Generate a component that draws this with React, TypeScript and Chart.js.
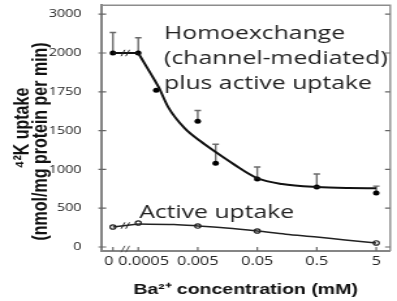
import React, { useEffect, useRef } from 'react';
import { Chart, LinearScale, registerables } from 'chart.js';

// ---------------- data ----------------
const X_TICKS = [0, 0.0005, 0.005, 0.05, 0.5, 5];
const X_TICK_LABELS = ['0\u2002', '\u2002\u20090.0005', '0.005', '0.05', '0.5', '5'];
const Y_TICKS = [0, 500, 1000, 1500, 1750, 2000, 3000];
const Y_TICK_LABELS = ['0', '500', '1000', '1500', '1750', '2000', '3000'];

// Homoexchange (channel-mediated) plus active uptake: measured points
const homoConc = [0, 0.0005, 0.001, 0.005, 0.01, 0.05, 0.5, 5];
const homoUptake = [2000, 2000, 1760, 1560, 1080, 875, 772, 695];
const homoErrTop = [2530, 2395, null, 1630, 1325, 1030, 940, 785];
// fitted curve
const homoFitConc = [0, 0.0005, 0.0008, 0.0011, 0.0016, 0.003, 0.0055, 0.01, 0.02, 0.05, 0.13, 0.5, 1.7, 5];
const homoFitUptake = [2000, 2000, 1870, 1780, 1650, 1516, 1365, 1223, 1068, 888, 812, 772, 760, 758];

// Active uptake
const activeConc = [0, 0.0005, 0.005, 0.05, 5];
const activeUptake = [258, 309, 270, 206, 52];
const activeFitConc = [0, 0.0005, 0.002, 0.005, 0.015, 0.05, 0.15, 0.5, 1.5, 5];
const activeFitUptake = [258, 295, 290, 272, 245, 206, 165, 128, 90, 52];

const X_TITLE = 'Ba\u00B2\u207A concentration (mM)';
const Y_TITLE = ['\u2074\u00B2K uptake', '(nmol/mg protein per min)' + '\u00A0'.repeat(6)];
const HOMO_LABEL = ['Homoexchange', '(channel-mediated)', 'plus active uptake'];
const ACTIVE_LABEL = ['Active uptake'];

// ---------------- scale geometry ----------------
const W = 305;
const H = 301;
const STRETCH = 397 / W;
const REF_CONC = 0.0005;
const X_DEC_MIN = -0.626;
const X_DEC_MAX = 4.235;
const X_DEC_ZERO = -0.426;
const Y_IDX_MIN = -0.103;
const Y_IDX_MAX = 6.232;

function concToDecades(c: number) {
  return c <= 0 ? X_DEC_ZERO : Math.log10(c / REF_CONC);
}
function valueToIndex(v: number) {
  const t = Y_TICKS;
  const n = t.length;
  if (v <= t[1]) return (v - t[0]) / (t[1] - t[0]);
  for (let i = 1; i < n - 1; i++) {
    if (v <= t[i + 1]) return i + (v - t[i]) / (t[i + 1] - t[i]);
  }
  return n - 2 + (v - t[n - 2]) / (t[n - 1] - t[n - 2]);
}
function indexToValue(idx: number) {
  const t = Y_TICKS;
  const n = t.length;
  const i = Math.max(0, Math.min(n - 2, Math.floor(idx)));
  return t[i] + (idx - i) * (t[i + 1] - t[i]);
}

class ConcScale extends LinearScale {
  static id = 'concBroken';
  static defaults = {};
  determineDataLimits() {
    this.min = X_TICKS[0];
    this.max = X_TICKS[X_TICKS.length - 1];
  }
  buildTicks() {
    return X_TICKS.map((value) => ({ value }));
  }
  getPadding() {
    return { left: 0, right: 0, top: 0, bottom: 0 };
  }
  getPixelForValue(v: number) {
    return this.getPixelForDecimal((concToDecades(v) - X_DEC_MIN) / (X_DEC_MAX - X_DEC_MIN));
  }
  getValueForPixel(p: number) {
    const d = X_DEC_MIN + this.getDecimalForPixel(p) * (X_DEC_MAX - X_DEC_MIN);
    return REF_CONC * Math.pow(10, d);
  }
}

class UptakeScale extends LinearScale {
  static id = 'uptakeBroken';
  static defaults = {};
  determineDataLimits() {
    this.min = Y_TICKS[0];
    this.max = Y_TICKS[Y_TICKS.length - 1];
  }
  buildTicks() {
    return Y_TICKS.map((value) => ({ value }));
  }
  getPadding() {
    return { left: 0, right: 0, top: 0, bottom: 0 };
  }
  getPixelForValue(v: number) {
    return this.getPixelForDecimal((valueToIndex(v) - Y_IDX_MIN) / (Y_IDX_MAX - Y_IDX_MIN));
  }
  getValueForPixel(p: number) {
    return indexToValue(Y_IDX_MIN + this.getDecimalForPixel(p) * (Y_IDX_MAX - Y_IDX_MIN));
  }
}

Chart.register(...registerables, ConcScale, UptakeScale);

const pts = (xs: number[], ys: number[]) => xs.map((x, i) => ({ x, y: ys[i] }));

function drawBreak(ctx: CanvasRenderingContext2D, x: number, y: number) {
  ctx.beginPath();
  for (const dx of [-2, 1.6]) {
    ctx.moveTo(x + dx - 1.4, y + 3.2);
    ctx.lineTo(x + dx + 1.4, y - 3.2);
  }
  ctx.stroke();
}

const decorPlugin = {
  id: 'decor',
  beforeDatasetsDraw(chart: any) {
    const { ctx, chartArea: a } = chart;
    const x = chart.scales.x;
    const y = chart.scales.y;
    ctx.save();
    // frame top and right
    ctx.strokeStyle = '#8c8c8c';
    ctx.lineWidth = 1.4;
    ctx.beginPath();
    ctx.moveTo(a.left, a.top);
    ctx.lineTo(a.right, a.top);
    ctx.lineTo(a.right, a.bottom);
    ctx.stroke();
    // tick marks
    ctx.strokeStyle = '#666';
    ctx.lineWidth = 1.2;
    ctx.beginPath();
    y.ticks.forEach((_: any, i: number) => {
      const py = y.getPixelForTick(i);
      ctx.moveTo(a.left - 2, py);
      ctx.lineTo(a.left + 4, py);
      ctx.moveTo(a.right - 4, py);
      ctx.lineTo(a.right, py);
    });
    x.ticks.forEach((_: any, i: number) => {
      const px = x.getPixelForTick(i);
      ctx.moveTo(px, a.bottom);
      ctx.lineTo(px, a.bottom - 4);
    });
    ctx.stroke();
    // axis break
    const bx = (x.getPixelForValue(X_TICKS[0]) + x.getPixelForValue(X_TICKS[1])) / 2;
    ctx.strokeStyle = '#555';
    ctx.lineWidth = 1;
    drawBreak(ctx, bx, a.bottom - 2);
    // error bars
    ctx.strokeStyle = '#6a6a6a';
    ctx.lineWidth = 1.4;
    ctx.beginPath();
    homoConc.forEach((c, i) => {
      const top = homoErrTop[i];
      if (top == null) return;
      const px = x.getPixelForValue(c);
      const py0 = y.getPixelForValue(homoUptake[i]);
      const py1 = y.getPixelForValue(top);
      ctx.moveTo(px, py0);
      ctx.lineTo(px, py1);
      ctx.moveTo(px - 2.5, py1);
      ctx.lineTo(px + 2.5, py1);
    });
    ctx.stroke();
    ctx.restore();
  },
  afterDatasetsDraw(chart: any) {
    const { ctx, chartArea: a } = chart;
    const x = chart.scales.x;
    const y = chart.scales.y;
    ctx.save();
    const bx = (x.getPixelForValue(homoFitConc[0]) + x.getPixelForValue(homoFitConc[1])) / 2;
    ctx.strokeStyle = '#222';
    ctx.lineWidth = 1;
    drawBreak(ctx, bx, y.getPixelForValue((homoFitUptake[0] + homoFitUptake[1]) / 2));
    drawBreak(ctx, bx, y.getPixelForValue((activeFitUptake[0] + activeFitUptake[1]) / 2));
    // annotations
    ctx.fillStyle = '#222';
    ctx.font = '19px "Open Sans"';
    ctx.textAlign = 'left';
    ctx.textBaseline = 'alphabetic';
    HOMO_LABEL.forEach((t, i) => {
      ctx.fillText(t, a.left + 0.218 * a.width, a.top + 0.136 * a.height + i * 25);
    });
    ACTIVE_LABEL.forEach((t, i) => {
      ctx.fillText(t, a.left + 0.132 * a.width, a.top + 0.866 * a.height + i * 25);
    });
    ctx.restore();
  },
};

export default function App() {
  const ref = useRef<HTMLCanvasElement>(null);
  useEffect(() => {
    const canvas = ref.current;
    if (!canvas) return;
    const lineBase = {
      type: 'line',
      pointRadius: 0,
      fill: false,
      cubicInterpolationMode: 'monotone',
    };
    const chart = new Chart(canvas, {
      type: 'line',
      data: {
        datasets: [
          { ...lineBase, data: pts(homoFitConc.slice(0, 2), homoFitUptake.slice(0, 2)), borderColor: '#111', borderWidth: 2 },
          { ...lineBase, data: pts(homoFitConc.slice(1), homoFitUptake.slice(1)), borderColor: '#111', borderWidth: 2 },
          { ...lineBase, data: pts(activeFitConc.slice(0, 2), activeFitUptake.slice(0, 2)), borderColor: '#222', borderWidth: 1.5 },
          { ...lineBase, data: pts(activeFitConc.slice(1), activeFitUptake.slice(1)), borderColor: '#222', borderWidth: 1.5 },
          {
            data: pts(homoConc, homoUptake),
            showLine: false,
            pointRadius: 2.5,
            pointBackgroundColor: '#000',
            pointBorderColor: '#000',
            pointBorderWidth: 0,
          },
          {
            data: pts(activeConc, activeUptake),
            showLine: false,
            pointRadius: 2.2,
            pointBackgroundColor: '#fff',
            pointBorderColor: '#222',
            pointBorderWidth: 1.2,
          },
        ] as any,
      },
      options: {
        responsive: false,
        animation: false,
        devicePixelRatio: 1,
        events: [],
        layout: { padding: { top: 5, right: 3.8, bottom: 0, left: 0 } },
        plugins: { legend: { display: false }, tooltip: { enabled: false } },
        scales: {
          x: {
            type: 'concBroken',
            position: 'bottom',
            grid: { display: false, drawTicks: false },
            border: { display: true, color: '#858585', width: 2 },
            ticks: {
              autoSkip: false,
              maxRotation: 0,
              minRotation: 0,
              padding: 3,
              color: '#222',
              font: { family: '"Open Sans"', size: 12.5 },
              callback: (_v: any, i: number) => X_TICK_LABELS[i],
            },
            title: {
              display: true,
              text: X_TITLE,
              color: '#111',
              font: { family: '"Liberation Sans", Arial, sans-serif', size: 15, weight: 'bold', lineHeight: 1.2 },
              padding: { top: 0, bottom: 2 },
            },
            afterFit: (s: any) => {
              s.height = 50;
            },
          },
          y: {
            type: 'uptakeBroken',
            position: 'left',
            grid: { display: false, drawTicks: false },
            border: { display: true, color: '#858585', width: 2 },
            ticks: {
              autoSkip: false,
              padding: 15,
              color: '#222',
              font: { family: '"Open Sans"', size: 11 },
              callback: (_v: any, i: number) => Y_TICK_LABELS[i],
            },
            title: {
              display: true,
              text: Y_TITLE,
              color: '#111',
              font: { family: '"Liberation Sans", Arial, sans-serif', size: 16, weight: 'bold', lineHeight: 0.91 },
              padding: { top: 10, bottom: 0 },
            },
            afterFit: (s: any) => {
              s.width = 77.6;
            },
          },
        },
      } as any,
      plugins: [decorPlugin],
    });
    return () => chart.destroy();
  }, []);

  return (
    <div style={{ position: 'absolute', left: 0, top: 0, width: 397, height: H, overflow: 'hidden', background: '#fff' }}>
      <div style={{ width: W, height: H, transform: `scaleX(${STRETCH})`, transformOrigin: '0 0' }}>
        <canvas ref={ref} width={W} height={H} />
      </div>
    </div>
  );
}
